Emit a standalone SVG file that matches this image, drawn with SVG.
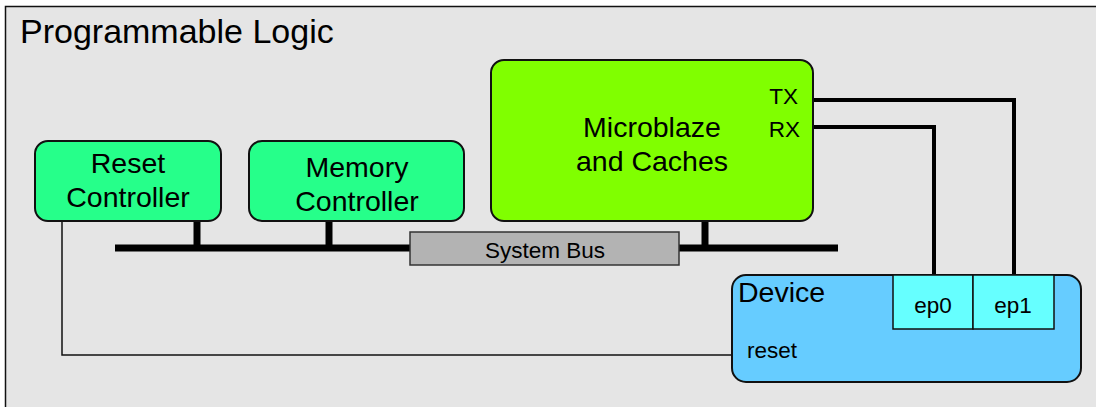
<svg xmlns="http://www.w3.org/2000/svg" width="1096" height="407" viewBox="0 0 1096 407">
<style>
text{font-family:"Liberation Sans",Arial,sans-serif;fill:#000}
.ctrl{fill:#26ff8a;stroke:#111;stroke-width:2}
.t25{font-size:28.5px;text-anchor:middle}
.t19{font-size:22.5px}
.wire{fill:none;stroke:#000;stroke-width:4}
.stub{stroke:#000;stroke-width:7}
</style>
<rect x="0" y="0" width="1096" height="407" fill="#fff"/>
<g id="frame">
<rect x="5.5" y="6.5" width="1100" height="420" fill="#e5e5e5" stroke="#111" stroke-width="1.5"/>
<text x="20" y="43" style="font-size:34px">Programmable Logic</text>
</g>
<g id="connectors">
<line x1="115" y1="248" x2="838" y2="248" stroke="#000" stroke-width="7"/>
<line class="stub" x1="197" y1="221" x2="197" y2="248"/>
<line class="stub" x1="329" y1="221" x2="329" y2="248"/>
<line class="stub" x1="705" y1="221" x2="705" y2="248"/>
<polyline class="wire" points="813,100 1014,100 1014,275"/>
<polyline class="wire" points="813,127 934,127 934,275"/>
<polyline points="62,221 62,355 732,355" fill="none" stroke="#111" stroke-width="1.5"/>
</g>
<g id="reset-controller">
<rect class="ctrl" x="35" y="141" width="186" height="80" rx="13"/>
<text class="t25" x="128" y="173">Reset</text>
<text class="t25" x="128" y="207">Controller</text>
</g>
<g id="memory-controller">
<rect class="ctrl" x="249" y="141" width="215" height="80" rx="13"/>
<text class="t25" x="357" y="177">Memory</text>
<text class="t25" x="357" y="211">Controller</text>
</g>
<g id="microblaze">
<rect x="491" y="60" width="322" height="161" rx="13" fill="#80ff00" stroke="#111" stroke-width="2"/>
<text class="t25" x="652" y="137">Microblaze</text>
<text class="t25" x="652" y="171">and Caches</text>
<text x="798" y="104" text-anchor="end" style="font-size:22.5px">TX</text>
<text x="800" y="137" text-anchor="end" style="font-size:22.5px">RX</text>
</g>
<g id="system-bus">
<rect x="410" y="232" width="269" height="33" fill="#b3b3b3" stroke="#333" stroke-width="1.5"/>
<text class="t19" x="545" y="258" text-anchor="middle">System Bus</text>
</g>
<g id="device">
<rect x="732" y="275" width="349" height="107" rx="14" fill="#66ccff" stroke="#111" stroke-width="2"/>
<text x="738" y="302" style="font-size:28.5px">Device</text>
<text class="t19" x="747" y="358">reset</text>
</g>
<g id="ep0">
<rect x="893" y="275" width="80" height="54" fill="#66ffff" stroke="#111" stroke-width="1.5"/>
<text class="t19" x="933" y="313" text-anchor="middle">ep0</text>
</g>
<g id="ep1">
<rect x="973" y="275" width="81" height="54" fill="#66ffff" stroke="#111" stroke-width="1.5"/>
<text class="t19" x="1013" y="313" text-anchor="middle">ep1</text>
</g>
</svg>
